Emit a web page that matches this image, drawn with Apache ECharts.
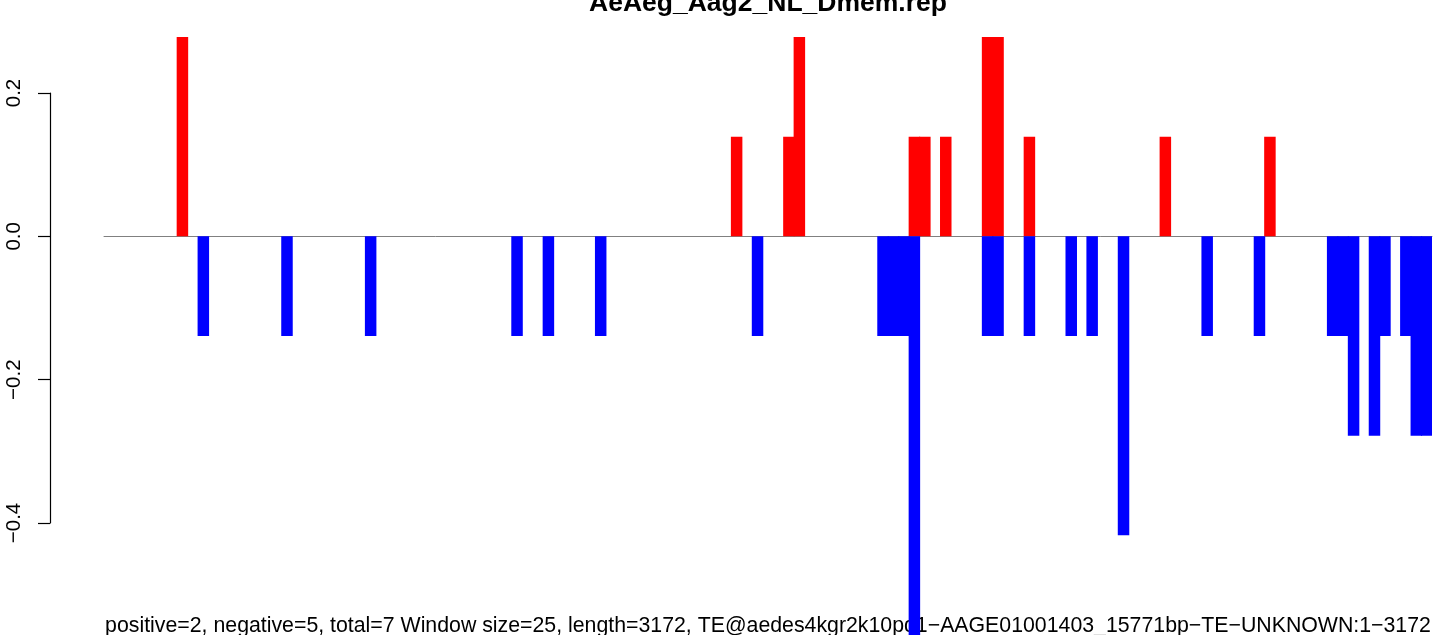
<!DOCTYPE html>
<html>
<head>
<meta charset="utf-8">
<script src="https://cdn.jsdelivr.net/npm/echarts@6/dist/echarts.min.js"></script>
<style>
html,body{margin:0;padding:0;background:#fff;}
#chart{width:1436px;height:635px;}
</style>
</head>
<body>
<div id="chart"></div>
<script>
// ---- data (127 windows of 25 bp) ----
const titleText = "AeAeg_Aag2_NL_Dmem.rep";
const subText = "positive=2, negative=5, total=7 Window size=25, length=3172, TE@aedes4kgr2k10pd1\u2212AAGE01001403_15771bp\u2212TE\u2212UNKNOWN:1\u22123172";

const positiveValues = [
  0,0,0,0,0,0,0,0.278,0,0,
  0,0,0,0,0,0,0,0,0,0,
  0,0,0,0,0,0,0,0,0,0,
  0,0,0,0,0,0,0,0,0,0,
  0,0,0,0,0,0,0,0,0,0,
  0,0,0,0,0,0,0,0,0,0,
  0.139,0,0,0,0,0.139,0.278,0,0,0,
  0,0,0,0,0,0,0,0.139,0.139,0,
  0.139,0,0,0,0.278,0.278,0,0,0.139,0,
  0,0,0,0,0,0,0,0,0,0,
  0,0.139,0,0,0,0,0,0,0,0,
  0,0.139,0,0,0,0,0,0,0,0,
  0,0,0,0,0,0,0
];

const negativeValues = [
  0,0,0,0,0,0,0,0,0,-0.139,
  0,0,0,0,0,0,0,-0.139,0,0,
  0,0,0,0,0,-0.139,0,0,0,0,
  0,0,0,0,0,0,0,0,0,-0.139,
  0,0,-0.139,0,0,0,0,-0.139,0,0,
  0,0,0,0,0,0,0,0,0,0,
  0,0,-0.139,0,0,0,0,0,0,0,
  0,0,0,0,-0.139,-0.139,-0.139,-0.556,0,0,
  0,0,0,0,-0.139,-0.139,0,0,-0.139,0,
  0,0,-0.139,0,-0.139,0,0,-0.417,0,0,
  0,0,0,0,0,-0.139,0,0,0,0,
  -0.139,0,0,0,0,0,0,-0.139,-0.139,-0.278,
  0,-0.278,-0.139,0,-0.139,-0.278,-0.278
];

const categories = positiveValues.map((_, i) => String(i + 1));
const yTicks = { min: -0.4, max: 0.2, step: 0.2 };
const dataRange = { min: -0.556, max: 0.278 };

const FONT = "'Liberation Sans', Arial, Helvetica, sans-serif";
const toBarData = arr => arr.map(v => (v === 0 ? null : v));

const chart = echarts.init(document.getElementById('chart'), null, { renderer: 'canvas' });
chart.setOption({
  animation: false,
  backgroundColor: '#ffffff',
  title: [
    {
      text: titleText, left: 768, top: -10, textAlign: 'center', padding: 0, z: 1,
      textStyle: { fontFamily: FONT, fontSize: 26.5, fontWeight: 'bold', color: '#000' }
    },
    {
      text: subText, left: 768, top: 616, textAlign: 'center', padding: 0, z: 1,
      textStyle: { fontFamily: FONT, fontSize: 21.3, fontWeight: 'normal', color: '#000' }
    }
  ],
  grid: [
    { left: 104, right: 4, top: 37, bottom: 0, containLabel: false },
    { left: 50, right: 4, top: 93, height: 430, containLabel: false }
  ],
  xAxis: [
    {
      type: 'category', gridIndex: 0, data: categories, boundaryGap: true,
      axisLine: { show: true, onZero: true, lineStyle: { color: '#808080', width: 1 } },
      axisTick: { show: false }, axisLabel: { show: false }, splitLine: { show: false }
    },
    { type: 'value', gridIndex: 1, show: false, min: 0, max: 1 }
  ],
  yAxis: [
    {
      type: 'value', gridIndex: 0, min: dataRange.min, max: dataRange.max, show: false,
      splitLine: { show: false }
    },
    {
      type: 'value', gridIndex: 1, min: yTicks.min, max: yTicks.max, interval: yTicks.step,
      axisLine: { show: true, lineStyle: { color: '#000', width: 1.2 } },
      axisTick: { show: true, inside: false, length: 12, lineStyle: { color: '#000', width: 1.2 } },
      splitLine: { show: false },
      axisLabel: {
        show: true, rotate: 90, margin: 25, fontFamily: FONT, fontSize: 20.5, color: '#000',
        formatter: v => v.toFixed(1).replace('-', '\u2212')
      }
    }
  ],
  series: [
    {
      type: 'bar', name: 'positive', xAxisIndex: 0, yAxisIndex: 0, data: toBarData(positiveValues),
      barWidth: 11.5, barGap: '-100%', z: 2, silent: true, large: false,
      itemStyle: { color: '#ff0000', borderWidth: 0 }
    },
    {
      type: 'bar', name: 'negative', xAxisIndex: 0, yAxisIndex: 0, data: toBarData(negativeValues),
      barWidth: 11.5, barGap: '-100%', z: 2, silent: true, large: false,
      itemStyle: { color: '#0000ff', borderWidth: 0 }
    }
  ]
});
</script>
</body>
</html>
